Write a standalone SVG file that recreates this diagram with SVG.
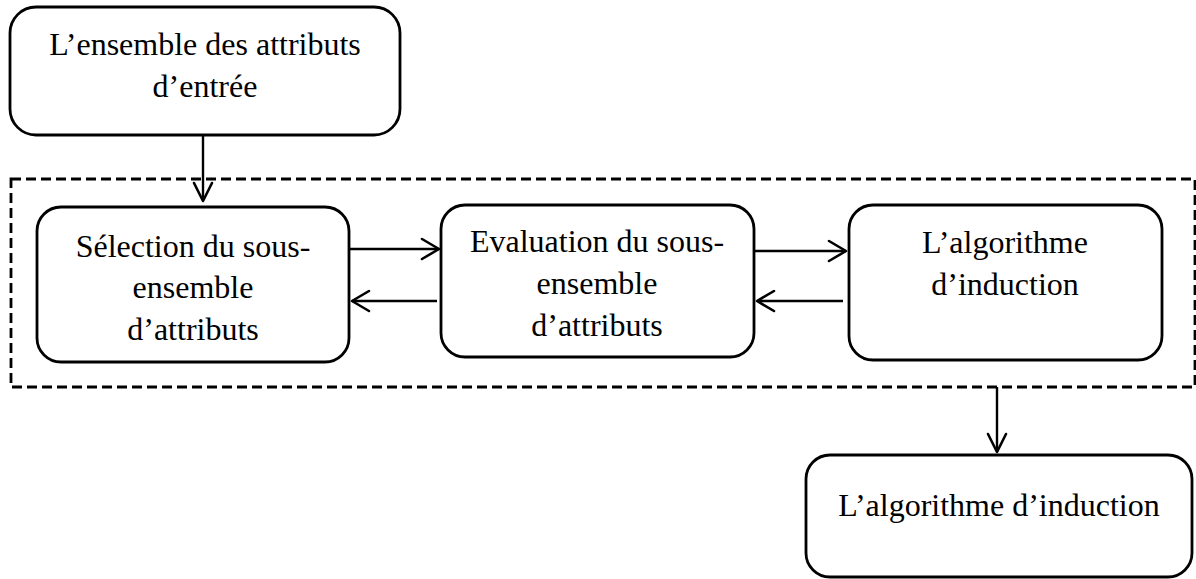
<svg xmlns="http://www.w3.org/2000/svg" width="1196" height="579" viewBox="0 0 1196 579">
  <style>
    .box { fill: #ffffff; stroke: #000000; stroke-width: 2.8; }
    .frame { fill: none; stroke: #000000; stroke-width: 2.8; stroke-dasharray: 10 5; }
    .label { font-family: "Liberation Serif", "Times New Roman", serif; font-size: 32px; fill: #000000; text-anchor: middle; }
    .link { fill: none; stroke: #000000; stroke-width: 2.4; }
    .head { fill: none; stroke: #000000; stroke-width: 2.6; stroke-linecap: round; stroke-linejoin: round; }
  </style>
  <rect width="1196" height="579" fill="#ffffff"/>

  <!-- dashed enclosure around the selection loop -->
  <rect class="frame" x="11" y="179" width="1184" height="208"/>

  <g id="input-attributes">
    <rect class="box" x="10" y="7" width="390" height="128" rx="26" ry="26"/>
    <text class="label" x="205" y="55">L’ensemble des attributs</text>
    <text class="label" x="205" y="97">d’entrée</text>
  </g>

  <g id="subset-selection">
    <rect class="box" x="37" y="207" width="312" height="155" rx="24" ry="24"/>
    <text class="label" x="193" y="257">Sélection du sous-</text>
    <text class="label" x="193" y="298">ensemble</text>
    <text class="label" x="193" y="340">d’attributs</text>
  </g>

  <g id="subset-evaluation">
    <rect class="box" x="441" y="205" width="313" height="152" rx="24" ry="24"/>
    <text class="label" x="597" y="252">Evaluation du sous-</text>
    <text class="label" x="597" y="294">ensemble</text>
    <text class="label" x="597" y="336">d’attributs</text>
  </g>

  <g id="induction-inner">
    <rect class="box" x="849" y="205" width="313" height="155" rx="24" ry="24"/>
    <text class="label" x="1005" y="253">L’algorithme</text>
    <text class="label" x="1005" y="295">d’induction</text>
  </g>

  <g id="induction-output">
    <rect class="box" x="806" y="455" width="386" height="122" rx="24" ry="24"/>
    <text class="label" x="999" y="516">L’algorithme d’induction</text>
  </g>

  <g id="connectors">
    <!-- input set down into the loop -->
    <line class="link" x1="203" y1="135" x2="203" y2="200"/>
    <polyline class="head" points="194,183 203,201 212,183"/>
    <!-- selection to evaluation -->
    <line class="link" x1="350" y1="249" x2="439" y2="249"/>
    <polyline class="head" points="422,239 439,249 422,259"/>
    <!-- evaluation back to selection -->
    <line class="link" x1="437" y1="301" x2="352" y2="301"/>
    <polyline class="head" points="369,291 352,301 369,311"/>
    <!-- evaluation to induction -->
    <line class="link" x1="755" y1="251" x2="846" y2="251"/>
    <polyline class="head" points="829,241 846,251 829,261"/>
    <!-- induction back to evaluation -->
    <line class="link" x1="843" y1="301" x2="757" y2="301"/>
    <polyline class="head" points="774,291 757,301 774,311"/>
    <!-- loop result down to output -->
    <line class="link" x1="997" y1="387" x2="997" y2="452"/>
    <polyline class="head" points="988,434 997,452 1006,434"/>
  </g>
</svg>
